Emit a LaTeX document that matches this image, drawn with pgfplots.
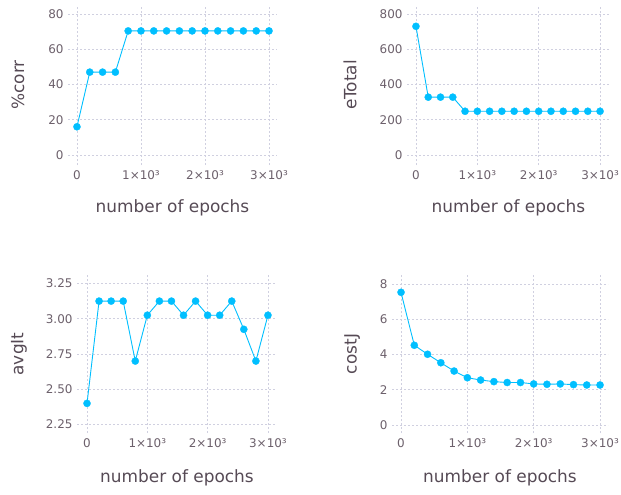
\documentclass[border=0pt]{standalone}
\usepackage{pgfplots}
\pgfplotsset{compat=1.18}
\usepackage{fontspec}
\setmainfont{DejaVu Sans}
\definecolor{linec}{HTML}{00BFFF}
\definecolor{gridc}{HTML}{D0D0E0}
\definecolor{tickc}{HTML}{6C606B}
\definecolor{labc}{HTML}{564A55}
\pgfplotsset{
  gad/.style={
    scale only axis,
    axis line style={draw=none},
    major tick length=0pt,
    grid=major,
    grid style={dash pattern=on 2bp off 2bp, color=gridc, line width=0.6bp},
    ticklabel style={font=\fontsize{12}{14}\selectfont, text=tickc},
    xticklabel style={yshift=-2bp},
    yticklabel style={xshift=-1bp},
    label style={font=\fontsize{17}{20}\selectfont, text=labc},
    xtick={0,1000,2000,3000},
    xticklabels={0,1×10³,2×10³,3×10³},
    xlabel={number of epochs},
    anchor=south west,
  },
  ser/.style={color=linec, line width=0.9bp, mark=*, mark size=3.6bp, mark options={fill=linec, draw=linec, line width=0.3bp}},
}
\begin{document}
\begin{tikzpicture}
\useasboundingbox (0bp,0bp) rectangle (621bp,-495bp);
% plot 1
\begin{axis}[gad, at={(68bp,-165bp)}, width=209bp, height=160bp,
  xmin=-140, xmax=3125, ymin=-5.7, ymax=85.1,
  ytick={0,20,40,60,80}, yticklabels={0,20,40,60,80},
  ylabel={\%corr},
  xlabel style={at={(axis description cs:0.5,-0.269)}, anchor=center},
  ylabel style={at={(axis description cs:-0.239,0.5)}, anchor=center}]
\addplot[ser] coordinates {(0,16) (200,47) (400,47) (600,47) (800,70.4) (1000,70.4) (1200,70.4) (1400,70.4) (1600,70.4) (1800,70.4) (2000,70.4) (2200,70.4) (2400,70.4) (2600,70.4) (2800,70.4) (3000,70.4)};
\end{axis}
% plot 2
\begin{axis}[gad, at={(407bp,-165bp)}, width=203bp, height=160bp,
  xmin=-146, xmax=3162, ymin=-57, ymax=851,
  ytick={0,200,400,600,800}, yticklabels={0,200,400,600,800},
  ylabel={eTotal},
  xlabel style={at={(axis description cs:0.5,-0.269)}, anchor=center},
  ylabel style={at={(axis description cs:-0.281,0.5)}, anchor=center}]
\addplot[ser] coordinates {(0,730) (200,328) (400,328) (600,328) (800,248) (1000,248) (1200,248) (1400,248) (1600,248) (1800,248) (2000,248) (2200,248) (2400,248) (2600,248) (2800,248) (3000,248)};
\end{axis}
% plot 3
\begin{axis}[gad, at={(77bp,-433bp)}, width=200bp, height=158bp,
  xmin=-166, xmax=3150, ymin=2.19, ymax=3.31,
  ytick={2.25,2.5,2.75,3,3.25}, yticklabels={2.25,2.50,2.75,3.00,3.25},
  ylabel={avgIt},
  xlabel style={at={(axis description cs:0.5,-0.285)}, anchor=center},
  ylabel style={at={(axis description cs:-0.29,0.5)}, anchor=center}]
\addplot[ser] coordinates {(0,2.40) (200,3.125) (400,3.125) (600,3.125) (800,2.70) (1000,3.025) (1200,3.125) (1400,3.125) (1600,3.025) (1800,3.125) (2000,3.025) (2200,3.025) (2400,3.125) (2600,2.925) (2800,2.70) (3000,3.025)};
\end{axis}
% plot 4
\begin{axis}[gad, at={(392bp,-433bp)}, width=216bp, height=158bp,
  xmin=-136, xmax=3120, ymin=-0.45, ymax=8.5,
  ytick={0,2,4,6,8}, yticklabels={0,2,4,6,8},
  ylabel={costJ},
  xlabel style={at={(axis description cs:0.5,-0.285)}, anchor=center},
  ylabel style={at={(axis description cs:-0.185,0.5)}, anchor=center}]
\addplot[ser] coordinates {(0,7.52) (200,4.52) (400,4.01) (600,3.53) (800,3.06) (1000,2.68) (1200,2.55) (1400,2.46) (1600,2.41) (1800,2.41) (2000,2.33) (2200,2.31) (2400,2.33) (2600,2.29) (2800,2.27) (3000,2.27)};
\end{axis}
\end{tikzpicture}
\end{document}
